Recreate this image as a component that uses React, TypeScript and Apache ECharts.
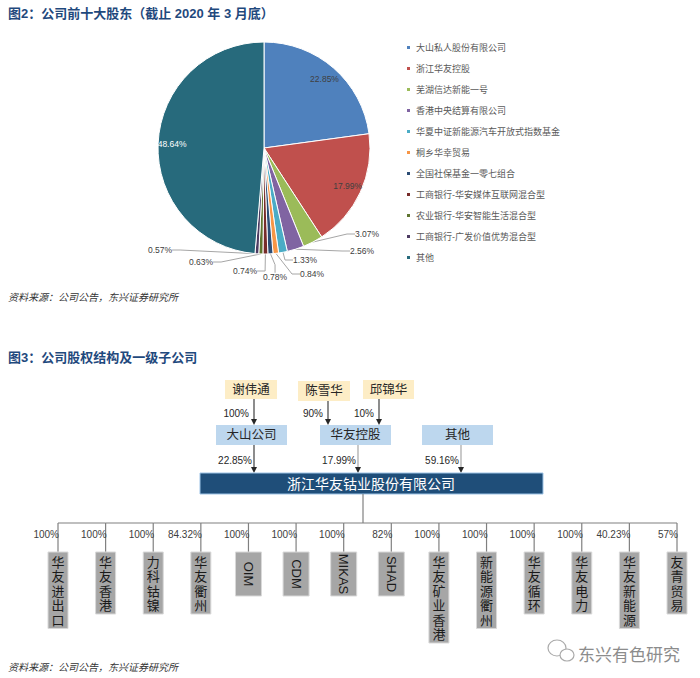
import React, { useEffect, useRef } from 'react';
import * as echarts from 'echarts';

// ---------- data ----------
const title1 = '图2：公司前十大股东（截止 2020 年 3 月底）';
const title2 = '图3：公司股权结构及一级子公司';
const sourceText = '资料来源：公司公告，东兴证券研究所';

const shareholders = [
  '大山私人股份有限公司',
  '浙江华友控股',
  '芜湖信达新能一号',
  '香港中央结算有限公司',
  '华夏中证新能源汽车开放式指数基金',
  '桐乡华幸贸易',
  '全国社保基金一零七组合',
  '工商银行-华安媒体互联网混合型',
  '农业银行-华安智能生活混合型',
  '工商银行-广发价值优势混合型',
  '其他',
];
const shareValues = [22.85, 17.99, 3.07, 2.56, 1.33, 0.84, 0.78, 0.74, 0.63, 0.57, 48.64];

const persons = ['谢伟通', '陈雪华', '邱锦华'];
const personShares = ['100%', '90%', '10%'];
const holders = ['大山公司', '华友控股', '其他'];
const holderShares = ['22.85%', '17.99%', '59.16%'];
const company = '浙江华友钴业股份有限公司';

const subsidiaries = [
  '华友进出口', '华友香港', '力科钴镍', '华友衢州', 'OIM', 'CDM', 'MIKAS', 'SHAD',
  '华友矿业香港', '新能源衢州', '华友循环', '华友电力', '华友新能源', '友青贸易',
];
const subShares = [100, 100, 100, 84.32, 100, 100, 100, 82, 100, 100, 100, 100, 40.23, 57];

// ---------- styles ----------
const FONT = "'Liberation Sans', 'Noto Sans CJK SC', sans-serif";
const sliceColors = ['#4F81BD', '#C0504D', '#9BBB59', '#8064A2', '#4BACC6', '#F79646', '#2C4D75', '#772C2A', '#5F7530', '#4D3B62', '#276A7C'];
const smallLabelPos: Record<number, [number, number]> = {
  2: [355, 234], 3: [350, 251], 4: [293, 260], 5: [300, 274],
  6: [263, 277], 7: [233, 271], 8: [189, 262], 9: [148, 250],
};

function txt(x: number, y: number, text: string, o: any = {}) {
  return {
    type: 'text', x, y, silent: true,
    style: { text, fontFamily: FONT, fontSize: 10, fill: '#404040', align: 'left', verticalAlign: 'middle', ...o },
  };
}
function box(x: number, y: number, w: number, h: number, fill: string, stroke = 'none') {
  return { type: 'rect', silent: true, shape: { x, y, width: w, height: h }, style: { fill, stroke, lineWidth: 1 } };
}
function vline(x: number, y1: number, y2: number, color: string) {
  return { type: 'line', silent: true, shape: { x1: x, y1, x2: x, y2 }, style: { stroke: color, lineWidth: 1.2 } };
}
function head(x: number, y: number, color: string) {
  return { type: 'polygon', silent: true, shape: { points: [[x - 3, y - 6], [x + 3, y - 6], [x, y]] }, style: { fill: color } };
}

export default function App() {
  const ref = useRef<HTMLDivElement>(null);
  useEffect(() => {
    if (!ref.current) return;
    const chart = echarts.init(ref.current, undefined, { renderer: 'svg' });

    const personLayout = [[225, 380, 52, 19], [298, 381, 52, 20], [363, 380, 51, 19]];
    const personArrowX = [254, 328, 379];
    const holderX = [216, 320, 422];
    const holderArrowX = [254, 358, 461];
    const holderLineColor = ['#404040', '#A6A6A6', '#A6A6A6'];

    const els: any[] = [];
    els.push(txt(8, 13, title1, { fontSize: 13, fontWeight: 'bold', fill: '#1F497D' }));
    els.push(txt(8, 297, sourceText, { fontSize: 10, fontStyle: 'italic', fill: '#333' }));
    els.push(txt(8, 357, title2, { fontSize: 13, fontWeight: 'bold', fill: '#1F497D' }));
    els.push(txt(8, 667, sourceText, { fontSize: 10, fontStyle: 'italic', fill: '#333' }));

    persons.forEach((p, i) => {
      const [x, y, w, h] = personLayout[i];
      els.push(box(x, y, w, h, '#FDEDC6'));
      els.push(txt(x + w / 2, y + h / 2, p, { fontSize: 12.5, align: 'center', fill: '#262626' }));
      const ax = personArrowX[i];
      els.push(vline(ax, y + h, 419, '#404040'));
      els.push(head(ax, 425, '#262626'));
      els.push(txt(ax - 5, 413, personShares[i], { align: 'right', fill: '#262626' }));
    });

    holders.forEach((hname, i) => {
      const x = holderX[i];
      els.push(box(x, 425, 71, 20, '#BDD7EE'));
      els.push(txt(x + 35.5, 435, hname, { fontSize: 12.5, align: 'center', fill: '#262626' }));
      const ax = holderArrowX[i];
      els.push(vline(ax, 445, 467, holderLineColor[i]));
      els.push(head(ax, 473, '#262626'));
      els.push(txt(ax - 2, 460, holderShares[i], { align: 'right', fill: '#262626' }));
    });

    els.push(box(200, 473, 343, 21, '#1F4E79', '#9DC3E6'));
    els.push(txt(371, 484, company, { fontSize: 14, align: 'center', fill: '#ffffff' }));
    els.push(vline(363, 494, 523, '#808080'));

    // watermark
    els.push({ type: 'ellipse', silent: true, shape: { cx: 557, cy: 648, rx: 9, ry: 8 }, style: { fill: 'none', stroke: '#AAAAAA', lineWidth: 1.2 } });
    els.push({ type: 'ellipse', silent: true, shape: { cx: 567, cy: 655, rx: 7, ry: 6 }, style: { fill: '#ffffff', stroke: '#AAAAAA', lineWidth: 1.2 } });
    els.push(txt(578, 655, '东兴有色研究', { fontSize: 17, fill: '#8C8C8C' }));

    const busY = 523;
    const boxTop = 552;

    chart.setOption({
      animation: false,
      color: sliceColors,
      textStyle: { fontFamily: FONT },
      legend: {
        orient: 'vertical',
        left: 400,
        top: 38,
        itemWidth: 5,
        itemHeight: 5,
        itemGap: 12,
        icon: 'rect',
        data: shareholders,
        textStyle: { fontSize: 9, color: '#595959', fontFamily: FONT },
      },
      grid: { left: 58, right: 23, top: 520, bottom: 30 },
      xAxis: { type: 'category', data: subsidiaries, boundaryGap: false, show: false },
      yAxis: { type: 'value', min: 0, max: 100, show: false },
      graphic: { elements: els },
      series: [
        {
          type: 'pie',
          center: [264, 148],
          radius: 106,
          startAngle: 90,
          clockwise: true,
          avoidLabelOverlap: false,
          itemStyle: { borderColor: '#ffffff', borderWidth: 1 },
          label: {
            show: true,
            position: 'outside',
            fontSize: 8.5,
            color: '#404040',
            formatter: (p: any) => p.value.toFixed(2) + '%',
          },
          labelLine: { show: true, length: 8, length2: 8, lineStyle: { color: '#A6A6A6', width: 1 } },
          labelLayout: (params: any) => {
            const pos = smallLabelPos[params.dataIndex];
            if (!pos) return {};
            return { x: pos[0], y: pos[1], align: 'left', verticalAlign: 'middle' };
          },
          data: shareholders.map((n, i) => {
            const big = shareValues[i] > 10;
            return {
              name: n,
              value: shareValues[i],
              label: { show: !big },
              labelLine: { show: !big },
            };
          }),
        },
        {
          type: 'pie',
          center: [264, 148],
          radius: [0, 178],
          startAngle: 90,
          clockwise: true,
          silent: true,
          legendHoverLink: false,
          itemStyle: { color: 'rgba(0,0,0,0)', borderWidth: 0 },
          label: {
            show: true,
            position: 'inside',
            fontSize: 8.5,
            color: '#404040',
            formatter: (p: any) => p.value.toFixed(2) + '%',
          },
          labelLine: { show: false },
          data: shareholders.map((n, i) => {
            const big = shareValues[i] > 10;
            return {
              name: n,
              value: shareValues[i],
              label: { show: big, color: i === shareValues.length - 1 ? '#ffffff' : '#404040' },
            };
          }),
        },
        {
          type: 'custom',
          clip: false,
          silent: true,
          data: subsidiaries.map((_, i) => [i, subShares[i]]),
          encode: { x: 0, y: 1 },
          renderItem: (params: any, api: any) => {
            const i = api.value(0);
            const x = api.coord([i, 0])[0];
            const name = subsidiaries[i];
            const latin = /^[A-Z]+$/.test(name);
            const w = latin ? 26 : 20;
            const h = latin ? 44 : name.length * 14.5 + 4;
            const children: any[] = [];
            if (i < subsidiaries.length - 1) {
              const nx = api.coord([i + 1, 0])[0];
              children.push({ type: 'line', shape: { x1: x, y1: busY, x2: nx, y2: busY }, style: { stroke: '#808080', lineWidth: 1.2 } });
            }
            children.push({ type: 'line', shape: { x1: x, y1: busY, x2: x, y2: boxTop }, style: { stroke: '#808080', lineWidth: 1.2 } });
            children.push({ type: 'rect', shape: { x: x - w / 2, y: boxTop, width: w, height: h }, style: { fill: '#A6A6A6', stroke: '#D9D9D9', lineWidth: 1 } });
            if (latin) {
              children.push({
                type: 'text', x, y: boxTop + h / 2, rotation: -Math.PI / 2,
                style: { text: name, align: 'center', verticalAlign: 'middle', fontSize: 13, fontFamily: FONT, fill: '#1a1a1a' },
              });
            } else {
              children.push({
                type: 'text', x, y: boxTop + 3,
                style: { text: name.split('').join('\n'), lineHeight: 14.5, align: 'center', verticalAlign: 'top', fontSize: 13, fontFamily: FONT, fill: '#1a1a1a' },
              });
            }
            children.push({
              type: 'text', x: x + 1, y: 534,
              style: { text: api.value(1) + '%', align: 'right', verticalAlign: 'middle', fontSize: 10, fontFamily: FONT, fill: '#404040' },
            });
            return { type: 'group', children };
          },
        },
      ],
    });
    return () => chart.dispose();
  }, []);
  return <div ref={ref} style={{ position: 'fixed', left: 0, top: 0, width: 700, height: 678, background: '#fff' }} />;
}
